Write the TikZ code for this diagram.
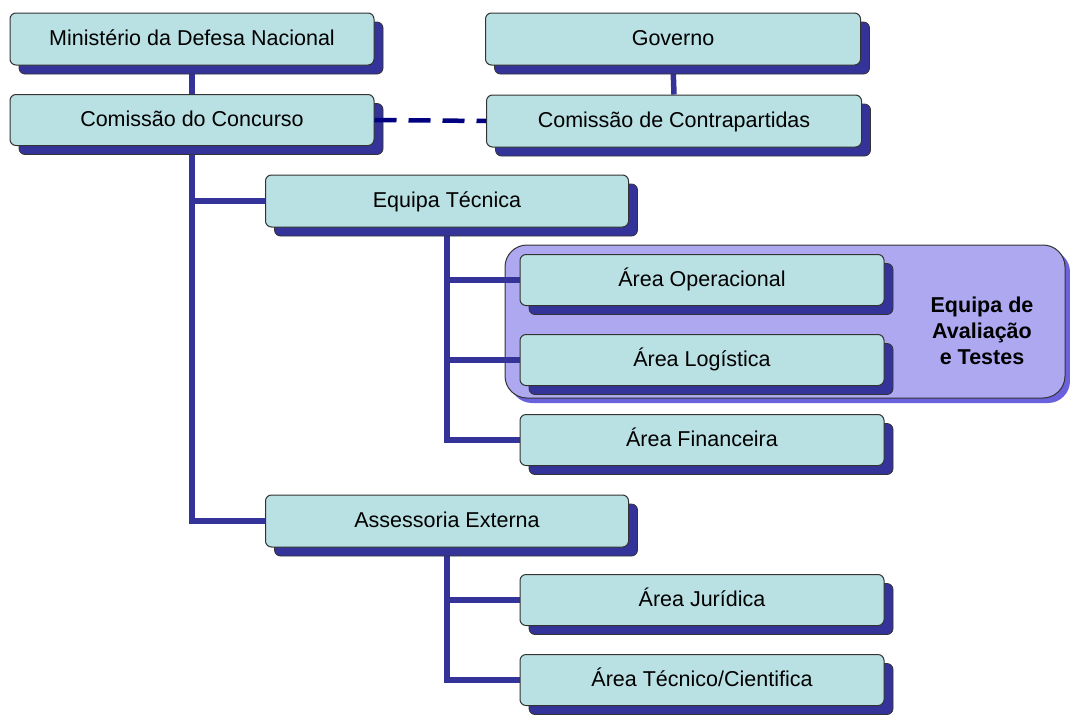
\documentclass[tikz,border=0pt]{standalone}
\usepackage{fontspec}
\setmainfont{Liberation Sans}
\usetikzlibrary{shadows}
\definecolor{boxc}{RGB}{185,224,227}
\definecolor{shadc}{RGB}{51,51,153}
\definecolor{connc}{RGB}{51,51,153}
\definecolor{dashc}{RGB}{0,0,128}
\definecolor{grpc}{RGB}{174,168,240}
\definecolor{grpsh}{RGB}{106,98,221}
\pgfdeclarelayer{grp}
\pgfdeclarelayer{conn}
\pgfsetlayers{grp,conn,main}
\tikzset{
  orgbox/.style={draw=black!80, line width=1pt, fill=boxc, rounded corners=6pt,
    minimum height=52pt, inner sep=2pt, text height=16pt, text depth=4pt,
    font=\fontsize{21.5}{24}\selectfont,
    general shadow={fill=shadc, draw=black!80, line width=0.8pt, shadow xshift=9pt, shadow yshift=-9pt}},
  conn/.style={draw=connc, line width=5.5pt},
  dashconn/.style={draw=dashc, line width=4.5pt, dash pattern=on 22pt off 12pt}
}
\begin{document}
\begin{tikzpicture}[x=1pt,y=-1pt]
\useasboundingbox (0,0) rectangle (1070,715);
% nodes
\node[orgbox, minimum width=364pt] (min) at (192,39) {Ministério da Defesa Nacional};
\node[orgbox, minimum width=364pt, minimum height=51pt] (com) at (192,120) {Comissão do Concurso};
\node[orgbox, minimum width=375pt] (gov) at (673,39) {Governo};
\node[orgbox, minimum width=375pt] (contra) at (674,121) {Comissão de Contrapartidas};
\node[orgbox, minimum width=363pt] (eqt) at (447,201) {Equipa Técnica};
\node[orgbox, minimum width=364pt, minimum height=51pt] (op) at (702,280) {Área Operacional};
\node[orgbox, minimum width=364pt, minimum height=51pt] (log) at (702,360) {Área Logística};
\node[orgbox, minimum width=364pt, minimum height=51pt] (fin) at (702,440) {Área Financeira};
\node[orgbox, minimum width=363pt] (ass) at (447,521) {Assessoria Externa};
\node[orgbox, minimum width=364pt, minimum height=51pt] (jur) at (702,600) {Área Jurídica};
\node[orgbox, minimum width=364pt, minimum height=51pt] (tec) at (702,680) {Área Técnico/Cientifica};
% group
\begin{pgfonlayer}{grp}
\fill[grpsh, rounded corners=22pt] (510,250) rectangle (1070,403);
\draw[draw=black!80, line width=1pt, fill=grpc, rounded corners=22pt] (505,245) rectangle (1065,398);
\end{pgfonlayer}
\node[font=\fontsize{21.5}{26}\selectfont\bfseries, align=center] (grplabel) at (982,331) {Equipa de\\Avaliação\\e Testes};
% connectors
\begin{pgfonlayer}{conn}
\draw[conn] (min.south) -- (com.north);
\draw[conn] (gov.south) -- (contra.north);
\draw[conn] (com.south) |- (eqt.west);
\draw[conn] (com.south) |- (ass.west);
\draw[conn] (eqt.south) |- (op.west);
\draw[conn] (eqt.south) |- (log.west);
\draw[conn] (eqt.south) |- (fin.west);
\draw[conn] (ass.south) |- (jur.west);
\draw[conn] (ass.south) |- (tec.west);
\end{pgfonlayer}
\draw[dashconn] (com.east) -- (contra.west);
\end{tikzpicture}
\end{document}
